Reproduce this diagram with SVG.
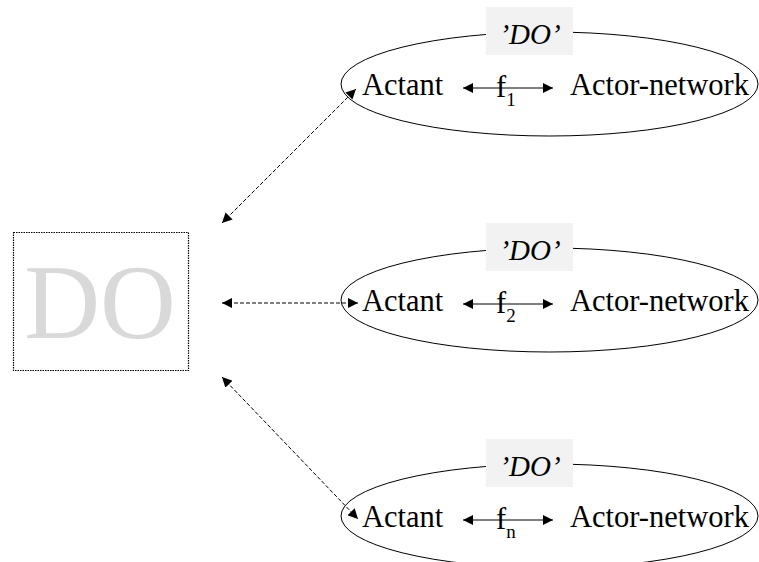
<svg xmlns="http://www.w3.org/2000/svg" width="759" height="562" viewBox="0 0 759 562" font-family="Liberation Serif, Times New Roman, serif">
<defs>
<style>
text{font-family:'Liberation Serif','Times New Roman',serif;fill:#000}
.big{font-size:30.5px}
.lbl{font-size:29px;font-style:italic}
.sub{font-size:19px}
.ell{fill:none;stroke:#000;stroke-width:1}
.lblbg{fill:#f2f2f2;stroke:none}
.dash{stroke:#000;stroke-width:1;stroke-dasharray:4 2;fill:none}
.solid{stroke:#000;stroke-width:1;fill:none}
</style>
<marker id="ah" viewBox="0 0 10 10" refX="10" refY="5" markerWidth="10" markerHeight="10" markerUnits="userSpaceOnUse" orient="auto-start-reverse">
<path d="M0,0 L10,5 L0,10 z" fill="#000"/>
</marker>
</defs>
<rect width="759" height="562" fill="#fff"/>

<g id="do-box">
<rect x="13.5" y="232.5" width="175" height="138" fill="#fff" stroke="#000" stroke-width="1.2" stroke-dasharray="1.5 1"/>
<text x="100" y="338" font-size="105" text-anchor="middle" style="fill:#d9d9d9">DO</text>
</g>

<g id="node-1">
<ellipse class="ell" cx="549.5" cy="84" rx="208.5" ry="52"/>
<rect class="lblbg" x="486" y="7" width="87" height="48"/>
<text class="lbl" x="530" y="44" text-anchor="middle">’DO’</text>
<text class="big" x="362" y="95">Actant</text>
<text class="big" x="570" y="95">Actor-network</text>
<line class="solid" x1="463" y1="88" x2="553" y2="88" marker-start="url(#ah)" marker-end="url(#ah)"/>
<text class="big" x="496" y="97">f<tspan class="sub" dy="9">1</tspan></text>
</g>

<g id="node-2">
<ellipse class="ell" cx="549.5" cy="300" rx="208.5" ry="52"/>
<rect class="lblbg" x="486" y="223" width="87" height="48"/>
<text class="lbl" x="530" y="260" text-anchor="middle">’DO’</text>
<text class="big" x="362" y="311">Actant</text>
<text class="big" x="570" y="311">Actor-network</text>
<line class="solid" x1="463" y1="304" x2="553" y2="304" marker-start="url(#ah)" marker-end="url(#ah)"/>
<text class="big" x="496" y="313">f<tspan class="sub" dy="9">2</tspan></text>
</g>

<g id="node-3">
<ellipse class="ell" cx="549.5" cy="516" rx="208.5" ry="52"/>
<rect class="lblbg" x="486" y="439" width="87" height="48"/>
<text class="lbl" x="530" y="476" text-anchor="middle">’DO’</text>
<text class="big" x="362" y="527">Actant</text>
<text class="big" x="570" y="527">Actor-network</text>
<line class="solid" x1="463" y1="520" x2="553" y2="520" marker-start="url(#ah)" marker-end="url(#ah)"/>
<text class="big" x="496" y="529">f<tspan class="sub" dy="9">n</tspan></text>
</g>

<g id="connectors">
<line class="dash" x1="222" y1="223" x2="356" y2="89" marker-start="url(#ah)" marker-end="url(#ah)"/>
<line class="dash" x1="222" y1="303" x2="358" y2="303" marker-start="url(#ah)" marker-end="url(#ah)"/>
<line class="dash" x1="222" y1="377" x2="358" y2="519" marker-start="url(#ah)" marker-end="url(#ah)"/>
</g>
</svg>
